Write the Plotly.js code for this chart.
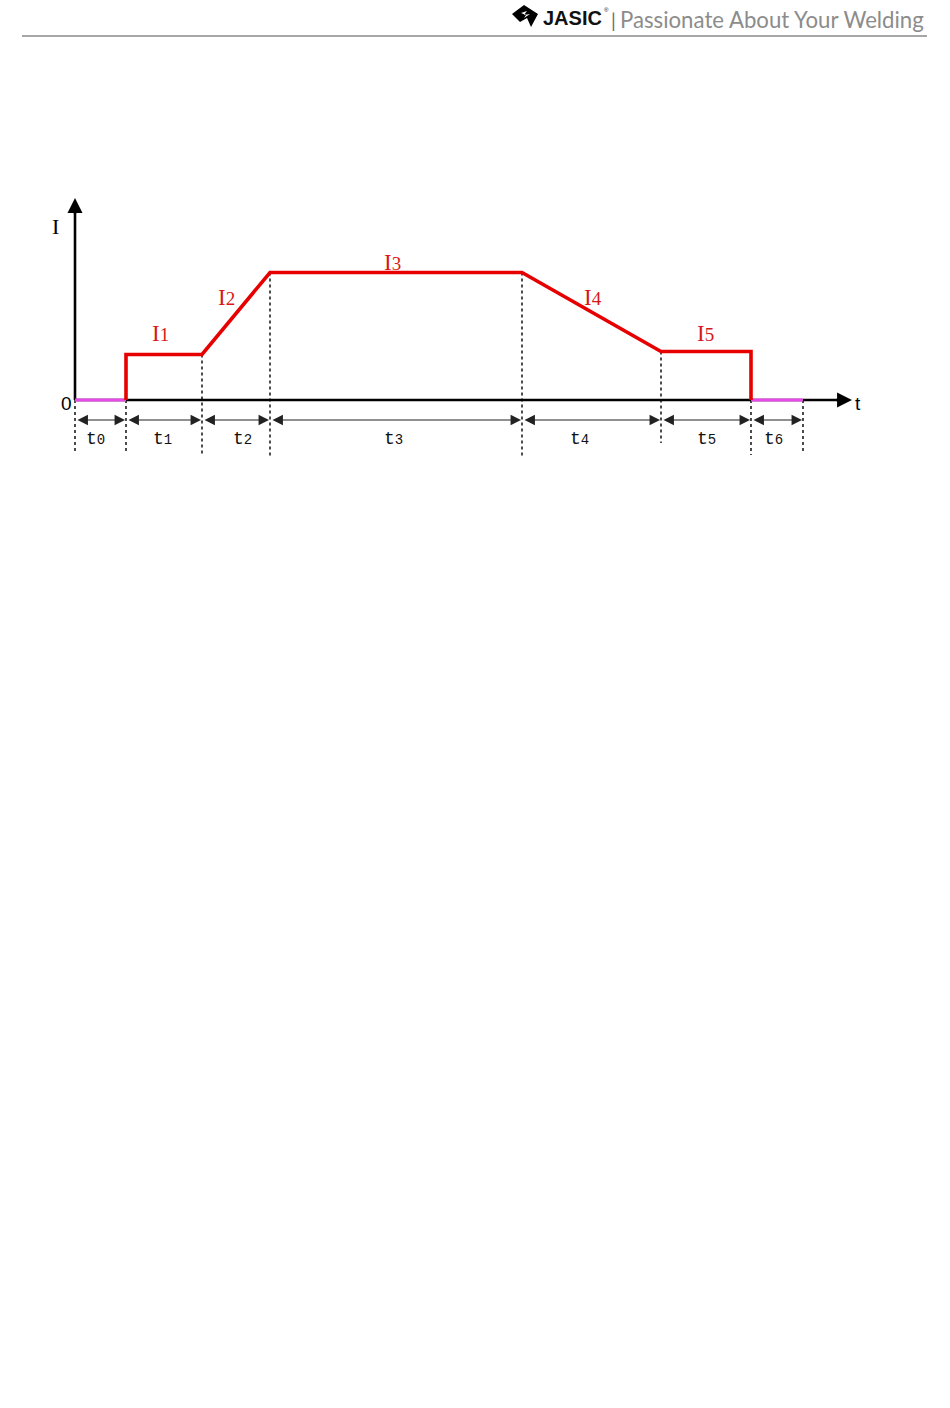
<!DOCTYPE html>
<html>
<head>
<meta charset="utf-8">
<script src="https://cdn.plot.ly/plotly-3.0.1.min.js"></script>
<style>html,body{margin:0;padding:0;background:#fff;}#chart{width:950px;height:1408px;}</style>
</head>
<body>
<div id="chart"></div>
<script>
// ---- data ----
const segmentLabels = ['t0', 't1', 't2', 't3', 't4', 't5', 't6'];
const segmentDurations = [5.1, 7.6, 6.8, 25.2, 13.9, 9.0, 5.2];
const levelLabels = ['I1', 'I2', 'I3', 'I4', 'I5'];
const currentI1 = 4.55;
const currentI3 = 12.75;
const currentI5 = 4.85;
const headerBrand = 'JASIC';
const headerSlogan = 'Passionate About Your Welding';

// ---- derived ----
const b = [0];
segmentDurations.forEach(d => b.push(+(b[b.length - 1] + d).toFixed(3)));

const idleX1 = [b[0], b[1]], idleY1 = [0, 0];
const idleX2 = [b[6], b[7]], idleY2 = [0, 0];
const weldX = [b[1], b[1], b[2], b[3], b[4], b[5], b[6], b[6]];
const weldY = [0, currentI1, currentI1, currentI3, currentI3, currentI5, currentI5, 0];

// pixel mapping: x px = 75 + 10*x ; y px = 400 - 10*y
const X0PX = 75, Y0PX = 400, S = 10;
const W = 950, H = 1408;
const xRange = [-X0PX / S, (W - X0PX) / S];
const yRange = [(Y0PX - H) / S, Y0PX / S];
const pxY = p => (Y0PX - p) / S;
const pxX = p => (p - X0PX) / S;

const traces = [
  {x: idleX1, y: idleY1, mode: 'lines', line: {color: '#e848e8', width: 3.2}, hoverinfo: 'skip'},
  {x: idleX2, y: idleY2, mode: 'lines', line: {color: '#e848e8', width: 3.2}, hoverinfo: 'skip'},
  {x: weldX, y: weldY, mode: 'lines', line: {color: '#e60000', width: 3.6}, hoverinfo: 'skip'}
];

const shapes = [];
const annotations = [];

// axes lines (below traces)
shapes.push({type: 'line', xref: 'x', yref: 'y', x0: 0, x1: pxX(842), y0: 0, y1: 0, line: {color: '#000', width: 2.6}, layer: 'below'});
shapes.push({type: 'line', xref: 'x', yref: 'y', x0: 0, x1: 0, y0: 0, y1: pxY(208), line: {color: '#000', width: 2.6}, layer: 'below'});
// arrow heads
annotations.push({x: pxX(852), y: 0, ax: pxX(835), ay: 0, axref: 'x', ayref: 'y', xref: 'x', yref: 'y',
  showarrow: true, arrowhead: 2, arrowsize: 1.15, arrowwidth: 2.6, arrowcolor: '#000', text: ''});
annotations.push({x: 0, y: pxY(198), ax: 0, ay: pxY(215), axref: 'x', ayref: 'y', xref: 'x', yref: 'y',
  showarrow: true, arrowhead: 2, arrowsize: 1.15, arrowwidth: 2.6, arrowcolor: '#000', text: ''});

// dotted verticals
const dotTops = [0, 0, currentI1, currentI3, currentI3, currentI5, 0, 0];
const dotBottoms = [453, 453, 454, 457, 458, 443, 455, 453];
b.forEach((bx, i) => {
  shapes.push({type: 'line', xref: 'x', yref: 'y', x0: bx, x1: bx, y0: dotTops[i], y1: pxY(dotBottoms[i]),
    line: {color: '#000', width: 1.4, dash: 'dot'}, layer: 'below'});
});

// dimension arrows and t labels
const tShift = [-5, -2, 6, -3, -12, 0, -4];
segmentLabels.forEach((lab, i) => {
  annotations.push({x: b[i + 1], y: pxY(420), ax: b[i], ay: pxY(420), axref: 'x', ayref: 'y', xref: 'x', yref: 'y',
    showarrow: true, arrowside: 'end+start', arrowhead: 2, startarrowhead: 2, arrowsize: 1.9, startarrowsize: 1.9,
    arrowwidth: 1.1, arrowcolor: '#222', standoff: 1, startstandoff: 1, text: ''});
  annotations.push({x: (b[i] + b[i + 1]) / 2, y: pxY(439), xref: 'x', yref: 'y', xshift: tShift[i], showarrow: false,
    text: lab.charAt(0) + '<span style="font-size:14px">' + lab.slice(1) + '</span>',
    font: {family: 'Liberation Mono, DejaVu Sans Mono, monospace', size: 18, color: '#111'}});
});

// I labels
const iPos = [
  [(b[1] + b[2]) / 2 - 0.4, pxY(333)],
  [b[2] + 2.4, pxY(297)],
  [(b[3] + b[4]) / 2 - 0.4, pxY(262)],
  [b[4] + 7.1, pxY(297)],
  [(b[5] + b[6]) / 2 - 0.1, pxY(333)]
];
levelLabels.forEach((lab, i) => {
  annotations.push({x: iPos[i][0], y: iPos[i][1], xref: 'x', yref: 'y', showarrow: false,
    text: lab.charAt(0) + '<span style="font-size:19px">' + lab.slice(1) + '</span>',
    font: {family: 'Liberation Serif, DejaVu Serif, serif', size: 23, color: '#d81818'}});
});

// axis labels
annotations.push({x: pxX(55), y: pxY(226), xref: 'x', yref: 'y', showarrow: false, text: 'I',
  font: {family: 'Liberation Serif, serif', size: 22, color: '#000'}});
annotations.push({x: pxX(66), y: pxY(403), xref: 'x', yref: 'y', showarrow: false, text: '0',
  font: {family: 'Liberation Sans, Arial, sans-serif', size: 19, color: '#000'}});
annotations.push({x: pxX(858), y: pxY(403), xref: 'x', yref: 'y', showarrow: false, text: 't',
  font: {family: 'Liberation Sans, Arial, sans-serif', size: 19, color: '#000'}});

// header (pixel coords on x2/y2)
shapes.push({type: 'line', xref: 'x2', yref: 'y2', x0: 22, x1: 927, y0: 36, y1: 36, line: {color: '#a6a6a6', width: 2}});
shapes.push({type: 'path', xref: 'x2', yref: 'y2', fillcolor: '#000', line: {width: 0},
  path: 'M512,14 L524,5 L538,14 L531,27 L527,18 L520,22 Z'});
shapes.push({type: 'path', xref: 'x2', yref: 'y2', fillcolor: '#fff', line: {width: 0},
  path: 'M521,13 L527,11 L524,15 L530,14 L524,18 L526,15 Z'});
annotations.push({x: 541, y: 18, xref: 'x2', yref: 'y2', xanchor: 'left', yanchor: 'middle', showarrow: false,
  text: '<b>' + headerBrand + '</b>', font: {family: 'Liberation Sans, Arial, sans-serif', size: 20, color: '#111'}});
annotations.push({x: 602, y: 10, xref: 'x2', yref: 'y2', xanchor: 'left', yanchor: 'middle', showarrow: false,
  text: '®', font: {family: 'Liberation Sans, sans-serif', size: 6, color: '#111'}});
annotations.push({x: 613, y: 20, xref: 'x2', yref: 'y2', xanchor: 'center', yanchor: 'middle', showarrow: false,
  text: '|', font: {family: 'Lato, Noto Sans, sans-serif', size: 19, color: '#6a6a6a'}});
annotations.push({x: 926, y: 19, xref: 'x2', yref: 'y2', xanchor: 'right', yanchor: 'middle', showarrow: false,
  text: headerSlogan, font: {family: 'Lato, Noto Sans, sans-serif', size: 22.2, color: '#8c8c8c'}});

const layout = {
  width: W, height: H,
  margin: {l: 0, r: 0, t: 0, b: 0, pad: 0},
  paper_bgcolor: '#fff', plot_bgcolor: '#fff',
  showlegend: false,
  xaxis: {range: xRange, visible: false, fixedrange: true},
  yaxis: {range: yRange, visible: false, fixedrange: true},
  xaxis2: {range: [0, W], visible: false, overlaying: 'x', fixedrange: true},
  yaxis2: {range: [H, 0], visible: false, overlaying: 'y', fixedrange: true},
  shapes: shapes,
  annotations: annotations
};

Plotly.newPlot('chart', traces, layout, {staticPlot: true, displayModeBar: false});
</script>
</body>
</html>
